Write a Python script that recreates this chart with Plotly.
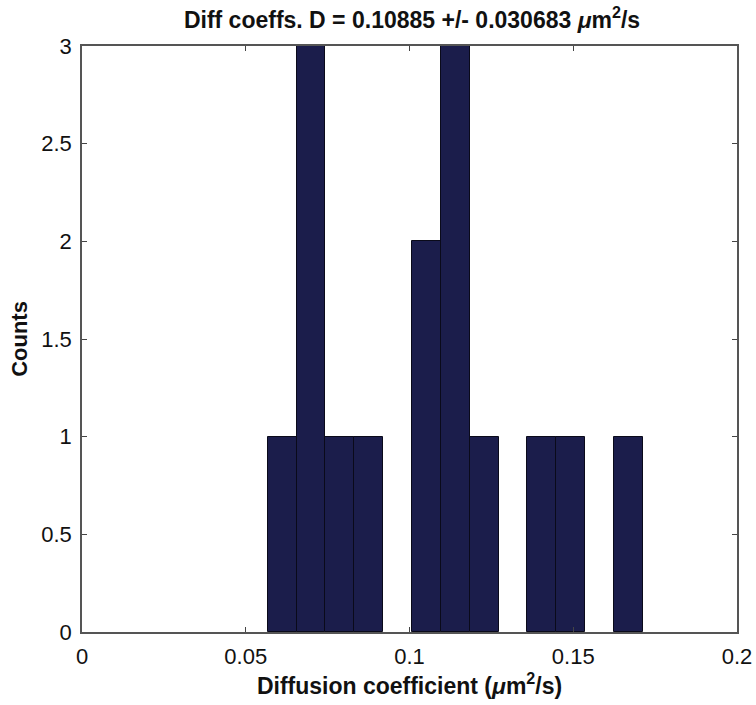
import plotly.graph_objects as go

# Histogram bin centres (µm^2/s) and counts
bin_centers = [0.0611, 0.0699, 0.0787, 0.0875, 0.0963, 0.1052, 0.1140,
               0.1228, 0.1316, 0.1404, 0.1492, 0.1580, 0.1668]
counts = [1, 3, 1, 1, 0, 2, 3, 1, 0, 1, 1, 0, 1]
bin_width = 0.00881

x_ticks = [0, 0.05, 0.1, 0.15, 0.2]
x_tick_labels = ["0", "0.05", "0.1", "0.15", "0.2"]
y_ticks = [0, 0.5, 1, 1.5, 2, 2.5, 3]
y_tick_labels = ["0", "0.5", "1", "1.5", "2", "2.5", "3"]

fig = go.Figure()
fig.add_trace(go.Bar(
    x=bin_centers, y=counts, width=[bin_width] * len(counts),
    marker=dict(color="#1b1d4b",
                line=dict(color="#0a0a1a",
                          width=[1 if c > 0 else 0 for c in counts])),
    showlegend=False,
))

font_family = "Liberation Sans, Arial, sans-serif"
axis_common = dict(
    showgrid=False, zeroline=False, showline=True, linecolor="#555555",
    linewidth=1.5, mirror="ticks", ticks="inside", ticklen=5,
    tickcolor="#444444", tickwidth=1, automargin=False,
    tickfont=dict(family=font_family, size=22, color="#111111"),
)

fig.update_layout(
    width=756, height=705,
    margin=dict(l=82, r=19, t=46, b=73),
    paper_bgcolor="white", plot_bgcolor="white",
    bargap=0,
    title=dict(
        text="<b>Diff coeffs. D = 0.10885 +/- 0.030683 <i>μ</i>m<sup>2</sup>/s</b>",
        x=0.545, xanchor="center", y=0.972, yanchor="middle",
        font=dict(family=font_family, size=23, color="#111111"),
        automargin=False,
    ),
    xaxis=dict(
        range=[0, 0.2], tickvals=x_ticks, ticktext=x_tick_labels,
        ticklabelstandoff=4,
        title=dict(text="<b>Diffusion coefficient (<i>μ</i>m<sup>2</sup>/s)</b>",
                   font=dict(family=font_family, size=23, color="#111111"),
                   standoff=4),
        **axis_common,
    ),
    yaxis=dict(
        range=[0, 3], tickvals=y_ticks, ticktext=y_tick_labels,
        ticklabelstandoff=4,
        title=dict(text="<b>Counts</b>",
                   font=dict(family=font_family, size=22, color="#111111"),
                   standoff=8),
        **axis_common,
    ),
)

fig.write_html("out.html")
